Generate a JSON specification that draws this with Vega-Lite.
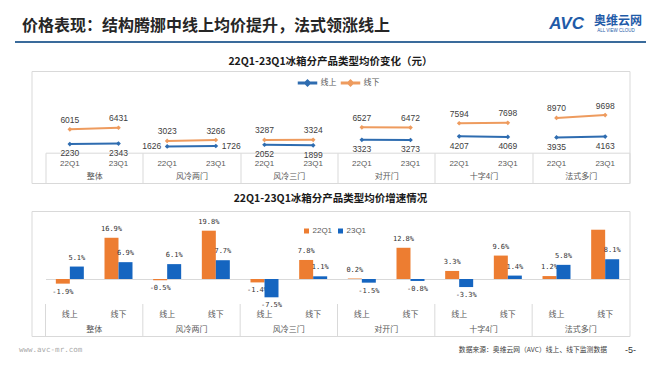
{
  "$schema": "https://vega.github.io/schema/vega-lite/v6.json",
  "background": "white",
  "padding": {"left": 15, "top": 14, "right": 0, "bottom": 0},
  "bounds": "flush",
  "center": true,
  "spacing": 28,
  "resolve": {"scale": {"color": "independent", "x": "independent", "y": "independent"}, "legend": {"color": "independent"}},
  "config": {
    "locale": {"number": {"decimal": ".", "thousands": ",", "grouping": [3], "currency": ["", ""], "minus": "-"}},
    "text": {"font": "Liberation Sans"}
  },
  "datasets": {
    "prices": [
      {"group": "整体", "channel": "线上", "period": "22Q1", "value": 2230},
      {"group": "整体", "channel": "线上", "period": "23Q1", "value": 2343},
      {"group": "整体", "channel": "线下", "period": "22Q1", "value": 6015},
      {"group": "整体", "channel": "线下", "period": "23Q1", "value": 6431},
      {"group": "风冷两门", "channel": "线上", "period": "22Q1", "value": 1626},
      {"group": "风冷两门", "channel": "线上", "period": "23Q1", "value": 1726},
      {"group": "风冷两门", "channel": "线下", "period": "22Q1", "value": 3023},
      {"group": "风冷两门", "channel": "线下", "period": "23Q1", "value": 3266},
      {"group": "风冷三门", "channel": "线上", "period": "22Q1", "value": 2052},
      {"group": "风冷三门", "channel": "线上", "period": "23Q1", "value": 1899},
      {"group": "风冷三门", "channel": "线下", "period": "22Q1", "value": 3287},
      {"group": "风冷三门", "channel": "线下", "period": "23Q1", "value": 3324},
      {"group": "对开门", "channel": "线上", "period": "22Q1", "value": 3323},
      {"group": "对开门", "channel": "线上", "period": "23Q1", "value": 3273},
      {"group": "对开门", "channel": "线下", "period": "22Q1", "value": 6527},
      {"group": "对开门", "channel": "线下", "period": "23Q1", "value": 6472},
      {"group": "十字4门", "channel": "线上", "period": "22Q1", "value": 4207},
      {"group": "十字4门", "channel": "线上", "period": "23Q1", "value": 4069},
      {"group": "十字4门", "channel": "线下", "period": "22Q1", "value": 7594},
      {"group": "十字4门", "channel": "线下", "period": "23Q1", "value": 7698},
      {"group": "法式多门", "channel": "线上", "period": "22Q1", "value": 3935},
      {"group": "法式多门", "channel": "线上", "period": "23Q1", "value": 4163},
      {"group": "法式多门", "channel": "线下", "period": "22Q1", "value": 8970},
      {"group": "法式多门", "channel": "线下", "period": "23Q1", "value": 9698}
    ],
    "growth": [
      {"group": "整体", "channel": "线上", "period": "22Q1", "value": -0.019},
      {"group": "整体", "channel": "线上", "period": "23Q1", "value": 0.051},
      {"group": "整体", "channel": "线下", "period": "22Q1", "value": 0.169},
      {"group": "整体", "channel": "线下", "period": "23Q1", "value": 0.069},
      {"group": "风冷两门", "channel": "线上", "period": "22Q1", "value": -0.005},
      {"group": "风冷两门", "channel": "线上", "period": "23Q1", "value": 0.061},
      {"group": "风冷两门", "channel": "线下", "period": "22Q1", "value": 0.198},
      {"group": "风冷两门", "channel": "线下", "period": "23Q1", "value": 0.077},
      {"group": "风冷三门", "channel": "线上", "period": "22Q1", "value": -0.014},
      {"group": "风冷三门", "channel": "线上", "period": "23Q1", "value": -0.075},
      {"group": "风冷三门", "channel": "线下", "period": "22Q1", "value": 0.078},
      {"group": "风冷三门", "channel": "线下", "period": "23Q1", "value": 0.011},
      {"group": "对开门", "channel": "线上", "period": "22Q1", "value": 0.002},
      {"group": "对开门", "channel": "线上", "period": "23Q1", "value": -0.015},
      {"group": "对开门", "channel": "线下", "period": "22Q1", "value": 0.128},
      {"group": "对开门", "channel": "线下", "period": "23Q1", "value": -0.008},
      {"group": "十字4门", "channel": "线上", "period": "22Q1", "value": 0.033},
      {"group": "十字4门", "channel": "线上", "period": "23Q1", "value": -0.033},
      {"group": "十字4门", "channel": "线下", "period": "22Q1", "value": 0.096},
      {"group": "十字4门", "channel": "线下", "period": "23Q1", "value": 0.014},
      {"group": "法式多门", "channel": "线上", "period": "22Q1", "value": 0.012},
      {"group": "法式多门", "channel": "线上", "period": "23Q1", "value": 0.058},
      {"group": "法式多门", "channel": "线下", "period": "22Q1", "value": 0.202},
      {"group": "法式多门", "channel": "线下", "period": "23Q1", "value": 0.081}
    ]
  },
  "vconcat": [
    {
      "width": 631,
      "height": 2,
      "view": {"fill": "#3A6B9B", "stroke": null},
      "data": {"values": [{"title": "价格表现：结构腾挪中线上均价提升，法式领涨线上", "brand": "AVC", "name": "奥维云网", "tag": "ALL VIEW CLOUD"}]},
      "encoding": {
        "y": {"datum": 1, "type": "quantitative", "scale": {"domain": [0, 1]}, "axis": null}
      },
      "layer": [
        {
          "mark": {"type": "text", "align": "left", "baseline": "middle", "dx": 7, "dy": -15, "fontSize": 16, "fontWeight": "bold", "font": "Noto Sans CJK SC", "color": "#262626"},
          "encoding": {"x": {"datum": 0, "type": "quantitative", "scale": {"domain": [0, 1]}, "axis": null}, "text": {"field": "title"}}
        },
        {
          "mark": {"type": "text", "align": "right", "baseline": "middle", "dx": -62, "dy": -17, "fontSize": 17, "fontWeight": "bold", "fontStyle": "italic", "font": "Liberation Sans", "color": "#1F5BA8"},
          "encoding": {"x": {"datum": 1, "type": "quantitative", "scale": {"domain": [0, 1]}, "axis": null}, "text": {"field": "brand"}}
        },
        {
          "mark": {"type": "text", "align": "right", "baseline": "middle", "dx": -4, "dy": -20.5, "fontSize": 12, "fontWeight": "bold", "font": "Noto Sans CJK SC", "color": "#1F5BA8"},
          "encoding": {"x": {"datum": 1, "type": "quantitative", "scale": {"domain": [0, 1]}, "axis": null}, "text": {"field": "name"}}
        },
        {
          "mark": {"type": "text", "align": "center", "baseline": "middle", "dx": -30, "dy": -10, "fontSize": 4.5, "font": "Liberation Sans", "color": "#1F5BA8"},
          "encoding": {"x": {"datum": 1, "type": "quantitative", "scale": {"domain": [0, 1]}, "axis": null}, "text": {"field": "tag"}}
        }
      ]
    },
    {
      "width": 598,
      "height": 112,
      "view": {"stroke": "#D9D9D9", "fill": "white"},
      "title": {"text": "22Q1-23Q1冰箱分产品类型均价变化（元）", "anchor": "middle", "baseline": "middle", "offset": -1, "fontSize": 10.5, "fontWeight": "bold", "font": "Noto Sans CJK SC", "color": "#1A1A1A"},
      "data": {"name": "prices"},
      "encoding": {
        "x": {
          "field": "group", "type": "nominal",
          "sort": ["整体", "风冷两门", "风冷三门", "对开门", "十字4门", "法式多门"],
          "scale": {"range": [14, 598], "paddingInner": 0, "paddingOuter": 0},
          "axis": {"title": null, "orient": "bottom", "offset": -30.3, "domainColor": "#D9D9D9", "tickBand": "extent", "tickSize": 30.3, "tickColor": "#D9D9D9", "labelPadding": -6.3, "labelBaseline": "middle", "labelAngle": 0, "labelFont": "Noto Sans CJK SC", "labelFontSize": 8, "labelColor": "#595959"}
        },
        "xOffset": {"field": "period", "type": "nominal", "sort": ["22Q1", "23Q1"], "scale": {"type": "point", "padding": 0.5}},
        "y": {"field": "value", "type": "quantitative", "scale": {"domain": [0, 16000], "range": [81.7, 19.6]}, "axis": null}
      },
      "layer": [
        {
          "mark": {"type": "line", "strokeWidth": 2},
          "encoding": {
            "color": {"field": "channel", "type": "nominal", "scale": {"domain": ["线上", "线下"], "range": ["#2E6CB0", "#EE9B5E"]},
              "legend": {"orient": "none", "legendX": 266, "legendY": 2, "direction": "horizontal", "title": null, "symbolType": "M-1,-0.09H1V0.09H-1Z M-0.33,0L0,-0.33L0.33,0L0,0.33Z", "symbolSize": 324, "symbolStrokeWidth": 1.5, "labelFont": "Noto Sans CJK SC", "labelFontSize": 8, "labelColor": "#595959", "labelOffset": 3, "columnPadding": 2}},
            "detail": {"field": "group"}
          }
        },
        {
          "mark": {"type": "point", "filled": true, "shape": "diamond", "size": 22, "opacity": 1},
          "encoding": {
            "color": {"field": "channel", "type": "nominal", "scale": {"domain": ["线上", "线下"], "range": ["#2E6CB0", "#EE9B5E"]},
              "legend": {"orient": "none", "legendX": 266, "legendY": 2, "direction": "horizontal", "title": null, "symbolType": "M-1,-0.09H1V0.09H-1Z M-0.33,0L0,-0.33L0.33,0L0,0.33Z", "symbolSize": 324, "symbolStrokeWidth": 1.5, "labelFont": "Noto Sans CJK SC", "labelFontSize": 8, "labelColor": "#595959", "labelOffset": 3, "columnPadding": 2}}
          }
        },
        {
          "transform": [{"filter": "datum.channel === '线下'"}],
          "mark": {"type": "text", "baseline": "middle", "dy": -9.5, "fontSize": 8.5, "color": "#404040"},
          "encoding": {"text": {"field": "value", "format": "d"}}
        },
        {
          "transform": [{"filter": "datum.channel === '线上' && datum.group !== '风冷两门'"}],
          "mark": {"type": "text", "baseline": "middle", "dy": 9.3, "fontSize": 8.5, "color": "#404040"},
          "encoding": {"text": {"field": "value", "format": "d"}}
        },
        {
          "transform": [{"filter": "datum.channel === '线上' && datum.group === '风冷两门' && datum.period === '22Q1'"}],
          "mark": {"type": "text", "baseline": "middle", "align": "right", "dx": -6, "fontSize": 8.5, "color": "#404040"},
          "encoding": {"text": {"field": "value", "format": "d"}}
        },
        {
          "transform": [{"filter": "datum.channel === '线上' && datum.group === '风冷两门' && datum.period === '23Q1'"}],
          "mark": {"type": "text", "baseline": "middle", "align": "left", "dx": 6, "fontSize": 8.5, "color": "#404040"},
          "encoding": {"text": {"field": "value", "format": "d"}}
        },
        {
          "transform": [{"filter": "datum.channel === '线上'"}],
          "mark": {"type": "text", "baseline": "middle", "dy": 10.8, "fontSize": 8, "color": "#595959"},
          "encoding": {"y": {"datum": 0, "type": "quantitative"}, "text": {"field": "period"}}
        }
      ]
    },
    {
      "width": 598,
      "height": 125,
      "view": {"stroke": "#D9D9D9", "fill": "white"},
      "title": {"text": "22Q1-23Q1冰箱分产品类型均价增速情况", "anchor": "middle", "baseline": "middle", "offset": 2, "fontSize": 10.5, "fontWeight": "bold", "font": "Noto Sans CJK SC", "color": "#1A1A1A"},
      "data": {"name": "growth"},
      "encoding": {
        "x": {
          "field": "group", "type": "nominal",
          "sort": ["整体", "风冷两门", "风冷三门", "对开门", "十字4门", "法式多门"],
          "scale": {"range": [14, 598], "paddingInner": 0, "paddingOuter": 0},
          "axis": {"title": null, "orient": "bottom", "offset": -57, "domainColor": "#D9D9D9", "ticks": false, "labels": false}
        },
        "y": {"field": "value", "type": "quantitative", "scale": {"domain": [-0.1, 0.25], "range": [92.4, 7]}, "axis": null}
      },
      "layer": [
        {
          "transform": [{"filter": "datum.period === '22Q1'"}],
          "encoding": {
            "xOffset": {"field": "channel", "type": "nominal", "sort": ["线上", "线下"], "scale": {"type": "band", "paddingInner": 0.7124, "paddingOuter": 0.3562, "align": 0.298}}
          },
          "layer": [
            {
              "mark": {"type": "bar"},
              "encoding": {"color": {"field": "period", "type": "nominal", "scale": {"domain": ["22Q1", "23Q1"], "range": ["#ED7D31", "#1565C0"]},
                "legend": {"orient": "none", "legendX": 271, "legendY": 16, "direction": "horizontal", "title": null, "symbolType": "square", "symbolSize": 25, "symbolStrokeWidth": 0, "labelFont": "Liberation Sans", "labelFontSize": 8, "labelColor": "#595959", "labelOffset": 2, "columnPadding": 4}}}
            },
            {
              "transform": [{"filter": "datum.value >= 0 && !(datum.group === '法式多门' && datum.channel === '线下')"}],
              "mark": {"type": "text", "baseline": "middle", "dy": -9, "fontSize": 7, "font": "DejaVu Sans Mono", "color": "#333333"},
              "encoding": {"text": {"field": "value", "format": ".1%"}}
            },
            {
              "transform": [{"filter": "datum.value < 0"}],
              "mark": {"type": "text", "baseline": "middle", "dy": 8, "fontSize": 7, "font": "DejaVu Sans Mono", "color": "#333333"},
              "encoding": {"text": {"field": "value", "format": ".1%"}}
            }
          ]
        },
        {
          "transform": [{"filter": "datum.period === '23Q1'"}],
          "encoding": {
            "xOffset": {"field": "channel", "type": "nominal", "sort": ["线上", "线下"], "scale": {"type": "band", "paddingInner": 0.7124, "paddingOuter": 0.3562, "align": 0.702}}
          },
          "layer": [
            {
              "mark": {"type": "bar"},
              "encoding": {"color": {"field": "period", "type": "nominal", "scale": {"domain": ["22Q1", "23Q1"], "range": ["#ED7D31", "#1565C0"]},
                "legend": {"orient": "none", "legendX": 271, "legendY": 16, "direction": "horizontal", "title": null, "symbolType": "square", "symbolSize": 25, "symbolStrokeWidth": 0, "labelFont": "Liberation Sans", "labelFontSize": 8, "labelColor": "#595959", "labelOffset": 2, "columnPadding": 4}}}
            },
            {
              "transform": [{"filter": "datum.value >= 0"}],
              "mark": {"type": "text", "baseline": "middle", "dy": -9, "fontSize": 7, "font": "DejaVu Sans Mono", "color": "#333333"},
              "encoding": {"text": {"field": "value", "format": ".1%"}}
            },
            {
              "transform": [{"filter": "datum.value < 0"}],
              "mark": {"type": "text", "baseline": "middle", "dy": 8, "fontSize": 7, "font": "DejaVu Sans Mono", "color": "#333333"},
              "encoding": {"text": {"field": "value", "format": ".1%"}}
            }
          ]
        },
        {
          "transform": [{"filter": "datum.period === '22Q1'"}],
          "mark": {"type": "text", "baseline": "middle", "dy": 36, "fontSize": 8, "font": "Noto Sans CJK SC", "color": "#595959"},
          "encoding": {
            "xOffset": {"field": "channel", "type": "nominal", "sort": ["线上", "线下"], "scale": {"type": "point", "padding": 0.5}},
            "y": {"datum": 0, "type": "quantitative"},
            "text": {"field": "channel"}
          }
        },
        {
          "transform": [{"filter": "datum.period === '22Q1' && datum.channel === '线上'"}],
          "mark": {"type": "rule", "color": "#D9D9D9", "strokeWidth": 1},
          "encoding": {
            "x": {"field": "group", "type": "nominal", "bandPosition": 0, "sort": ["整体", "风冷两门", "风冷三门", "对开门", "十字4门", "法式多门"]},
            "y": {"datum": -0.1025, "type": "quantitative"},
            "y2": {"datum": -0.2336}
          }
        },
        {
          "transform": [{"filter": "datum.period === '22Q1' && datum.channel === '线上'"}],
          "mark": {"type": "text", "baseline": "middle", "dy": 51.3, "fontSize": 8, "font": "Noto Sans CJK SC", "color": "#595959"},
          "encoding": {
            "y": {"datum": 0, "type": "quantitative"},
            "text": {"field": "group"}
          }
        }
      ],
      "resolve": {"scale": {"xOffset": "independent"}}
    },
    {
      "width": 631,
      "height": 1,
      "view": {"stroke": null},
      "data": {"values": [{"site": "www.avc-mr.com", "source": "数据来源：奥维云网（AVC）线上、线下监测数据", "page": "-5-"}]},
      "encoding": {
        "y": {"datum": 1, "type": "quantitative", "scale": {"domain": [0, 1]}, "axis": null}
      },
      "layer": [
        {
          "mark": {"type": "text", "align": "left", "baseline": "middle", "dx": 4, "dy": -14, "fontSize": 7.5, "font": "DejaVu Sans Mono", "color": "#AAAAAA"},
          "encoding": {"x": {"datum": 0, "type": "quantitative", "scale": {"domain": [0, 1]}, "axis": null}, "text": {"field": "site"}}
        },
        {
          "mark": {"type": "text", "align": "right", "baseline": "middle", "dx": -39, "dy": -14, "fontSize": 6.8, "font": "Noto Sans CJK SC", "color": "#404040"},
          "encoding": {"x": {"datum": 1, "type": "quantitative", "scale": {"domain": [0, 1]}, "axis": null}, "text": {"field": "source"}}
        },
        {
          "mark": {"type": "text", "align": "right", "baseline": "middle", "dx": -10, "dy": -14, "fontSize": 9, "font": "Liberation Sans", "color": "#333333"},
          "encoding": {"x": {"datum": 1, "type": "quantitative", "scale": {"domain": [0, 1]}, "axis": null}, "text": {"field": "page"}}
        }
      ]
    }
  ]
}
